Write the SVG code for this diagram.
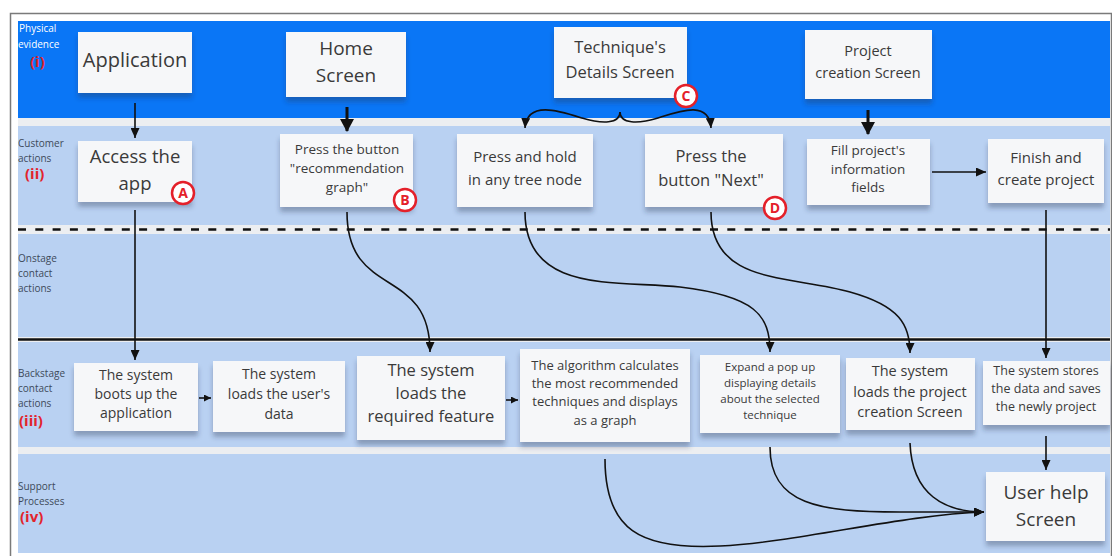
<svg xmlns="http://www.w3.org/2000/svg" width="1112" height="556" viewBox="0 0 1112 556">
<defs>
<style>
.lane{fill:#b9d1f2}
.strip{fill:#eceef1}
.lbl{font-family:"Open Sans","Noto Sans",sans-serif;font-size:10px;fill:#3e4a5a}
.lblw{font-family:"Open Sans","Noto Sans",sans-serif;font-size:10px;fill:#ffffff}
.num{font-family:"Open Sans","Noto Sans",sans-serif;font-size:15px;font-weight:bold;fill:#e2242c}
.note rect{fill:#f6f7f9;filter:url(#sh)}
.note text{font-family:"Open Sans","Noto Sans",sans-serif;fill:#3a3a3a;text-anchor:middle}
.badge circle{fill:#ffffff;stroke:#e4202a;stroke-width:2.5}
.badge text{font-family:"Open Sans","Noto Sans",sans-serif;font-size:14px;font-weight:bold;fill:#e4202a;text-anchor:middle}
.c{fill:none;stroke:#111;stroke-width:1.6}
.ct{fill:none;stroke:#111;stroke-width:3}
</style>
<filter id="sh" x="-10%" y="-10%" width="120%" height="140%">
<feDropShadow dx="0" dy="5" stdDeviation="2.5" flood-color="#2a3550" flood-opacity="0.35"/>
</filter>
<marker id="ar" markerUnits="userSpaceOnUse" markerWidth="10" markerHeight="9" refX="10" refY="4.5" orient="auto">
<path d="M0,0 L10,4.5 L0,9 z" fill="#111"/>
</marker>
<marker id="arT" markerUnits="userSpaceOnUse" markerWidth="14" markerHeight="14" refX="12" refY="7" orient="auto">
<path d="M0,0 L13,7 L0,14 z" fill="#111"/>
</marker>
<marker id="arS" markerUnits="userSpaceOnUse" markerWidth="8" markerHeight="7" refX="7" refY="3.5" orient="auto">
<path d="M0,0 L7,3.5 L0,7 z" fill="#111"/>
</marker>
</defs>

<!-- frame and lanes -->
<rect x="10.5" y="13.5" width="1101" height="560" fill="#ffffff" stroke="#7a7a7a" stroke-width="1.5"/>
<rect class="strip" x="18" y="21" width="1092" height="532"/>
<rect x="18" y="21" width="1092" height="97" fill="#0a76f6"/>
<rect class="lane" x="18" y="126" width="1092" height="99"/>
<rect class="lane" x="18" y="234" width="1092" height="103"/>
<rect class="lane" x="18" y="342" width="1092" height="105"/>
<rect class="lane" x="18" y="454" width="1092" height="99"/>
<line x1="18" y1="229.5" x2="1110" y2="229.5" stroke="#111" stroke-width="2.5" stroke-dasharray="8,9.3"/>
<line x1="18" y1="339.5" x2="1110" y2="339.5" stroke="#111" stroke-width="2.5"/>

<!-- lane labels -->
<g id="labels">
<text class="lblw" x="19" y="32">Physical</text>
<text class="lblw" x="18" y="47.5">evidence</text>
<text class="num" x="30" y="67">(i)</text>
<text class="lbl" x="18" y="146.5">Customer</text>
<text class="lbl" x="18" y="161.5">actions</text>
<text class="num" x="25" y="179">(ii)</text>
<text class="lbl" x="18" y="261.5">Onstage</text>
<text class="lbl" x="18" y="276.5">contact</text>
<text class="lbl" x="18" y="291.5">actions</text>
<text class="lbl" x="18" y="376.5">Backstage</text>
<text class="lbl" x="18" y="391.5">contact</text>
<text class="lbl" x="18" y="406.5">actions</text>
<text class="num" x="19" y="426">(iii)</text>
<text class="lbl" x="18" y="489.5">Support</text>
<text class="lbl" x="18" y="504.5">Processes</text>
<text class="num" x="20" y="522">(iv)</text>
</g>

<!-- nodes -->
<g id="n-application" class="note"><rect x="78" y="32" width="114" height="61"/><text x="135" y="67" font-size="20">Application</text></g>
<g id="n-home" class="note"><rect x="286" y="32" width="120" height="65"/><text x="346" y="55" font-size="19">Home</text><text x="346" y="82" font-size="19">Screen</text></g>
<g id="n-technique" class="note"><rect x="554" y="27" width="133" height="71"/><text x="620" y="53" font-size="16.5">Technique's</text><text x="620" y="78" font-size="16.5">Details Screen</text></g>
<g id="n-project" class="note"><rect x="805" y="30" width="127" height="69"/><text x="868" y="56" font-size="14.5">Project</text><text x="868" y="78" font-size="14.5">creation Screen</text></g>

<g id="n-access" class="note"><rect x="78" y="141" width="114" height="61"/><text x="135" y="163" font-size="18.5">Access the</text><text x="135" y="190" font-size="18.5">app</text></g>
<g id="n-press-rec" class="note"><rect x="280" y="134" width="133" height="73"/><text x="347" y="154" font-size="13.5">Press the button</text><text x="347" y="173" font-size="13.5">"recommendation</text><text x="347" y="192" font-size="13.5">graph"</text></g>
<g id="n-press-hold" class="note"><rect x="457" y="134" width="136" height="73"/><text x="525" y="162" font-size="15">Press and hold</text><text x="525" y="185" font-size="15">in any tree node</text></g>
<g id="n-press-next" class="note"><rect x="645" y="134" width="138" height="73"/><text x="711" y="162" font-size="16.5">Press the</text><text x="711" y="186" font-size="16.5">button "Next"</text></g>
<g id="n-fill" class="note"><rect x="807" y="139" width="123" height="66"/><text x="868" y="155" font-size="13.5">Fill project's</text><text x="868" y="174" font-size="13.5">information</text><text x="868" y="192" font-size="13.5">fields</text></g>
<g id="n-finish" class="note"><rect x="988" y="139" width="116" height="64"/><text x="1046" y="163" font-size="15">Finish and</text><text x="1046" y="185" font-size="15">create project</text></g>

<g id="n-boots" class="note"><rect x="74" y="363" width="124" height="68"/><text x="136" y="380" font-size="14">The system</text><text x="136" y="399" font-size="14">boots up the</text><text x="136" y="418" font-size="14">application</text></g>
<g id="n-userdata" class="note"><rect x="213" y="361" width="132" height="71"/><text x="279" y="379" font-size="14">The system</text><text x="279" y="399" font-size="14">loads the user's</text><text x="279" y="419" font-size="14">data</text></g>
<g id="n-feature" class="note"><rect x="357" y="356" width="148" height="84"/><text x="431" y="376" font-size="16.5">The system</text><text x="431" y="399" font-size="16.5">loads the</text><text x="431" y="422" font-size="16.5">required feature</text></g>
<g id="n-algorithm" class="note"><rect x="520" y="349" width="170" height="93"/><text x="605" y="370" font-size="13">The algorithm calculates</text><text x="605" y="388" font-size="13">the most recommended</text><text x="605" y="406" font-size="13">techniques and displays</text><text x="605" y="425" font-size="13">as a graph</text></g>
<g id="n-expand" class="note"><rect x="700" y="355" width="140" height="78"/><text x="770" y="371" font-size="11.5">Expand a pop up</text><text x="770" y="387" font-size="11.5">displaying details</text><text x="770" y="403" font-size="11.5">about the selected</text><text x="770" y="419" font-size="11.5">technique</text></g>
<g id="n-loadproject" class="note"><rect x="846" y="358" width="129" height="72"/><text x="910" y="376" font-size="14.5">The system</text><text x="910" y="397" font-size="14.5">loads the project</text><text x="910" y="417" font-size="14.5">creation Screen</text></g>
<g id="n-stores" class="note"><rect x="983" y="361" width="127" height="64"/><text x="1046" y="375" font-size="12.5">The system stores</text><text x="1046" y="393" font-size="12.5">the data and saves</text><text x="1046" y="411" font-size="12.5">the newly project</text></g>
<g id="n-userhelp" class="note"><rect x="986" y="472" width="119" height="69"/><text x="1046" y="499" font-size="19">User help</text><text x="1046" y="526" font-size="19">Screen</text></g>

<!-- connectors -->
<g id="connectors">
<path class="c" d="M135,103 L135,138" marker-end="url(#ar)"/>
<path class="ct" d="M347,107 L347,131" marker-end="url(#arT)"/>
<path class="ct" d="M868,110 L868,134" marker-end="url(#arT)"/>
<path class="c" d="M620,112 C620,124 602,124 582,118 C560,111 527,100 525,128" marker-end="url(#ar)"/>
<path class="c" d="M620,112 C620,124 638,124 658,118 C680,111 709,100 711,128" marker-end="url(#ar)"/>
<path class="c" d="M932,172 L986,172" marker-end="url(#ar)"/>
<path class="c" d="M135,210 L135,360" marker-end="url(#ar)"/>
<path class="c" d="M347,212 C347,300 430,265 430,352" marker-end="url(#ar)"/>
<path class="c" d="M525,212 C525,295 620,280 680,287 C755,296 770,315 770,352" marker-end="url(#ar)"/>
<path class="c" d="M711,212 C711,285 790,275 850,292 C900,306 910,325 910,353" marker-end="url(#ar)"/>
<path class="c" d="M1046,210 L1046,358" marker-end="url(#ar)"/>
<path class="c" d="M199,398 L211,398" marker-end="url(#arS)"/>
<path class="c" d="M506,400 L518,400" marker-end="url(#arS)"/>
<path class="c" d="M1046,436 L1046,470" marker-end="url(#ar)"/>
<path class="c" d="M605,459 C605,530 640,550 720,546 C800,542 900,515 984,512" marker-end="url(#ar)"/>
<path class="c" d="M770,447 C770,505 820,512 900,512 L984,512" marker-end="url(#ar)"/>
<path class="c" d="M910,443 C912,495 945,512 984,512" marker-end="url(#ar)"/>
</g>

<!-- badges -->
<g id="badge-a" class="badge"><circle cx="183" cy="193" r="11"/><text x="183" y="198">A</text></g>
<g id="badge-b" class="badge"><circle cx="405" cy="200" r="11"/><text x="405" y="205">B</text></g>
<g id="badge-c" class="badge"><circle cx="686" cy="96" r="11"/><text x="686" y="101">C</text></g>
<g id="badge-d" class="badge"><circle cx="775" cy="208" r="11"/><text x="775" y="213">D</text></g>
</svg>
